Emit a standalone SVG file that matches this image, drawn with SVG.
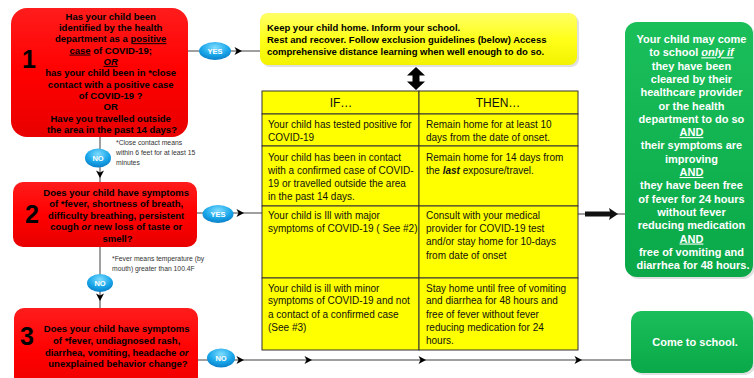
<svg xmlns="http://www.w3.org/2000/svg" width="754" height="378" viewBox="0 0 754 378">
<defs>
<linearGradient id="gRed" x1="0" y1="0" x2="0" y2="1">
<stop offset="0" stop-color="#ff1c1c"/><stop offset="0.5" stop-color="#ff0000"/><stop offset="1" stop-color="#e80000"/>
</linearGradient>
<linearGradient id="gYel" x1="0" y1="0" x2="0" y2="1">
<stop offset="0" stop-color="#ffff66"/><stop offset="0.5" stop-color="#ffff1a"/><stop offset="1" stop-color="#f2f200"/>
</linearGradient>
<linearGradient id="gGrn" x1="0" y1="0" x2="0" y2="1">
<stop offset="0" stop-color="#1abf5a"/><stop offset="1" stop-color="#0aa848"/>
</linearGradient>
<radialGradient id="gBlu" cx="0.5" cy="0.3" r="0.7">
<stop offset="0" stop-color="#7fdcff"/><stop offset="0.6" stop-color="#1aa7ea"/><stop offset="1" stop-color="#0a7fc8"/>
</radialGradient>
<path id="ar" d="M-3.5,-4 L4,0 L-3.5,4 L-1.5,0 Z"/>
<style>
.bt{font-family:"Liberation Sans",Arial,sans-serif;font-weight:bold;font-size:9.5px;fill:#000;text-anchor:middle}
.num{font-family:"Liberation Sans",Arial,sans-serif;font-weight:bold;font-size:25px;fill:#000;text-anchor:middle}
.note{font-family:"Liberation Sans",Arial,sans-serif;font-size:6.8px;fill:#333}
.tt{font-family:"Liberation Sans",Arial,sans-serif;font-size:10px;fill:#111}
.th{font-family:"Liberation Sans",Arial,sans-serif;font-size:12px;fill:#111;text-anchor:middle}
.gt{font-family:"Liberation Sans",Arial,sans-serif;font-weight:bold;font-size:11px;fill:#fff;text-anchor:middle}
.bl{font-family:"Liberation Sans",Arial,sans-serif;font-weight:bold;font-size:7.5px;fill:#fff;text-anchor:middle}
.ln{stroke:#7f7f7f;stroke-width:1.5;fill:none}
.cell{fill:#ffff00;stroke:#333;stroke-width:1}
</style>
</defs>
<rect width="754" height="378" fill="#fff"/>

<g id="connectors">
<line class="ln" x1="188" y1="51" x2="260" y2="51"/>
<line class="ln" x1="197" y1="213" x2="262" y2="213"/>
<line class="ln" x1="100" y1="137" x2="100" y2="182" stroke="#333"/>
<line class="ln" x1="100" y1="247" x2="100" y2="308" stroke="#333"/>
<line class="ln" x1="198" y1="360" x2="631" y2="360"/>
<line class="ln" x1="578" y1="214" x2="625" y2="214"/>
<use href="#ar" x="238" y="51"/>
<use href="#ar" x="240" y="213"/>
<use href="#ar" transform="translate(100,174) rotate(90)"/>
<use href="#ar" transform="translate(100,297) rotate(90)"/>
<use href="#ar" x="240" y="360"/>
<use href="#ar" x="308" y="360"/>
<use href="#ar" x="422" y="360"/>
<use href="#ar" x="578" y="360"/>
<path d="M416,67 L425,75.5 L419.5,75.5 L419.5,81.5 L425,81.5 L416,90 L407,81.5 L412.5,81.5 L412.5,75.5 L407,75.5 Z" fill="#000"/>
<path d="M585,211.5 L610,211.5 L609,208 L618,214 L609,220 L610,216.5 L585,216.5 Z" fill="#111"/>
<g id="yes1"><ellipse cx="215" cy="51" rx="16" ry="9" fill="url(#gBlu)"/><text class="bl" x="215" y="54">YES</text></g>
<g id="yes2"><ellipse cx="218" cy="214" rx="15.5" ry="9" fill="url(#gBlu)"/><text class="bl" x="218" y="217">YES</text></g>
<g id="no1"><ellipse cx="98" cy="158" rx="13" ry="9.5" fill="url(#gBlu)"/><text class="bl" x="98" y="161">NO</text></g>
<g id="no2"><ellipse cx="100" cy="283" rx="13" ry="9" fill="url(#gBlu)"/><text class="bl" x="100" y="286">NO</text></g>
<g id="no3"><ellipse cx="221" cy="358" rx="14" ry="9.5" fill="url(#gBlu)"/><text class="bl" x="221" y="361">NO</text></g>
</g>

<g id="box1">
<rect x="11" y="8" width="177" height="129" rx="16" fill="url(#gRed)"/>
<text class="num" x="29" y="68">1</text>
<text class="bt">
<tspan x="112" y="19.5">Has your child  been</tspan>
<tspan x="112" y="30.9">identified by the health</tspan>
<tspan x="112" y="42.2">department as a <tspan text-decoration="underline">positive</tspan></tspan>
<tspan x="112" y="53.6"><tspan text-decoration="underline">case</tspan> of COVID-19;</tspan>
<tspan x="112" y="64.9" font-style="italic" text-decoration="underline">OR</tspan>
<tspan x="112" y="76.3">has your child been in *close</tspan>
<tspan x="112" y="87.6">contact with a positive case</tspan>
<tspan x="112" y="99">of COVID-19 ?</tspan>
<tspan x="112" y="110.3">OR</tspan>
<tspan x="112" y="121.7">Have you travelled outside</tspan>
<tspan x="112" y="133">the area in the past 14 days?</tspan>
</text>
</g>
<text class="note"><tspan x="116" y="144.5">*Close contact means</tspan><tspan x="116" y="154.5">within 6 feet for at least 15</tspan><tspan x="116" y="164.5">minutes</tspan></text>

<g id="box2">
<rect x="13" y="182" width="184" height="65" rx="10" fill="url(#gRed)"/>
<text class="num" x="32" y="223">2</text>
<text class="bt">
<tspan x="117.5" y="195.5">Does your child have symptoms</tspan>
<tspan x="117.5" y="207">of *fever, shortness of breath,</tspan>
<tspan x="117.5" y="218.5">difficulty breathing, persistent</tspan>
<tspan x="117.5" y="230">cough <tspan font-style="italic">or</tspan>  new loss of taste or</tspan>
<tspan x="117.5" y="241.5">smell?</tspan>
</text>
</g>
<text class="note"><tspan x="112" y="260.5">*Fever means temperature (by</tspan><tspan x="112" y="270.5">mouth) greater than 100.4F</tspan></text>

<g id="box3">
<rect x="14" y="308" width="184" height="90" rx="10" fill="url(#gRed)"/>
<text class="num" x="27" y="345">3</text>
<text class="bt">
<tspan x="118" y="331.5">Does your child have symptoms</tspan>
<tspan x="118" y="343.5">of *fever, undiagnosed rash,</tspan>
<tspan x="118" y="355.5">diarrhea, vomiting, headache <tspan font-style="italic">or</tspan></tspan>
<tspan x="118" y="367">unexplained behavior change?</tspan>
</text>
</g>

<g id="action">
<rect x="262" y="15" width="317" height="52" rx="8" fill="#000" opacity="0.12"/>
<rect x="260" y="13" width="317" height="52" rx="8" fill="url(#gYel)"/>
<text class="bt" style="text-anchor:start">
<tspan x="267" y="30.5">Keep your child home. Inform your school.</tspan>
<tspan x="267" y="42.5">Rest and recover. Follow exclusion guidelines (below) Access</tspan>
<tspan x="267" y="54.5">comprehensive distance learning when well enough to do so.</tspan>
</text>
</g>

<g id="table">
<rect class="cell" x="262" y="91" width="157" height="23"/>
<rect class="cell" x="419" y="91" width="159" height="23"/>
<rect class="cell" x="262" y="114" width="157" height="32"/>
<rect class="cell" x="419" y="114" width="159" height="32"/>
<rect class="cell" x="262" y="146" width="157" height="60"/>
<rect class="cell" x="419" y="146" width="159" height="60"/>
<rect class="cell" x="262" y="206" width="157" height="72"/>
<rect class="cell" x="419" y="206" width="159" height="72"/>
<rect class="cell" x="262" y="278" width="157" height="72"/>
<rect class="cell" x="419" y="278" width="159" height="72"/>
<text class="th" x="341" y="106.5">IF…</text>
<text class="th" x="498" y="106.5">THEN…</text>
<text class="tt"><tspan x="268" y="127.5">Your child has tested positive for</tspan><tspan x="268" y="140.5">COVID-19</tspan></text>
<text class="tt"><tspan x="426" y="127.5">Remain home for at least 10</tspan><tspan x="426" y="140.5">days from the date of onset.</tspan></text>
<text class="tt"><tspan x="268" y="160.5">Your child has been in contact</tspan><tspan x="268" y="173.5">with a confirmed case of COVID-</tspan><tspan x="268" y="186.5">19 or travelled outside the area</tspan><tspan x="268" y="199.5">in the past 14 days.</tspan></text>
<text class="tt"><tspan x="426" y="160.5">Remain home for 14 days from</tspan><tspan x="426" y="173.5">the <tspan font-weight="bold" font-style="italic">last</tspan> exposure/travel.</tspan></text>
<text class="tt"><tspan x="268" y="218.5">Your child is Ill with major</tspan><tspan x="268" y="231.5">symptoms of COVID-19 ( See #2)</tspan></text>
<text class="tt"><tspan x="426" y="218.5">Consult with  your medical</tspan><tspan x="426" y="231.5">provider for COVID-19 test</tspan><tspan x="426" y="245">and/or stay home for 10-days</tspan><tspan x="426" y="258.5">from date of onset</tspan></text>
<text class="tt"><tspan x="268" y="291.5">Your child is ill with minor</tspan><tspan x="268" y="304">symptoms of COVID-19 and not</tspan><tspan x="268" y="317.5">a contact of a confirmed case</tspan><tspan x="268" y="330.5">(See #3)</tspan></text>
<text class="tt"><tspan x="426" y="291.5">Stay home until free of vomiting</tspan><tspan x="426" y="304">and diarrhea for 48 hours and</tspan><tspan x="426" y="317.5">free of fever without fever</tspan><tspan x="426" y="330.5">reducing medication for 24</tspan><tspan x="426" y="343.5">hours.</tspan></text>
</g>

<g id="clear">
<rect x="627" y="24" width="128" height="255" rx="12" fill="#000" opacity="0.12"/>
<rect x="625" y="22" width="128" height="255" rx="12" fill="url(#gGrn)"/>
<text class="gt">
<tspan x="693" y="43">Your child may come</tspan>
<tspan x="693" y="56.3">to school <tspan font-style="italic" text-decoration="underline">only if</tspan></tspan>
<tspan x="693" y="69.6">they  have been</tspan>
<tspan x="693" y="82.9">cleared by their</tspan>
<tspan x="693" y="96.2">healthcare provider</tspan>
<tspan x="693" y="109.5">or the health</tspan>
<tspan x="693" y="122.8">department to do so</tspan>
<tspan x="693" y="136.1" text-decoration="underline">AND</tspan>
<tspan x="693" y="149.4">their symptoms are</tspan>
<tspan x="693" y="162.7">improving</tspan>
<tspan x="693" y="176" text-decoration="underline">AND</tspan>
<tspan x="693" y="189.3">they have been free</tspan>
<tspan x="693" y="202.6">of fever for 24 hours</tspan>
<tspan x="693" y="215.9">without fever</tspan>
<tspan x="693" y="229.2">reducing medication</tspan>
<tspan x="693" y="242.5" text-decoration="underline">AND</tspan>
<tspan x="693" y="255.8">free of vomiting and</tspan>
<tspan x="693" y="269.1">diarrhea for 48 hours.</tspan>
</text>
</g>

<g id="come">
<rect x="633" y="313" width="122" height="62" rx="10" fill="#000" opacity="0.12"/>
<rect x="631" y="311" width="122" height="62" rx="10" fill="url(#gGrn)"/>
<text class="gt" x="695" y="346">Come to school.</text>
</g>
</svg>
